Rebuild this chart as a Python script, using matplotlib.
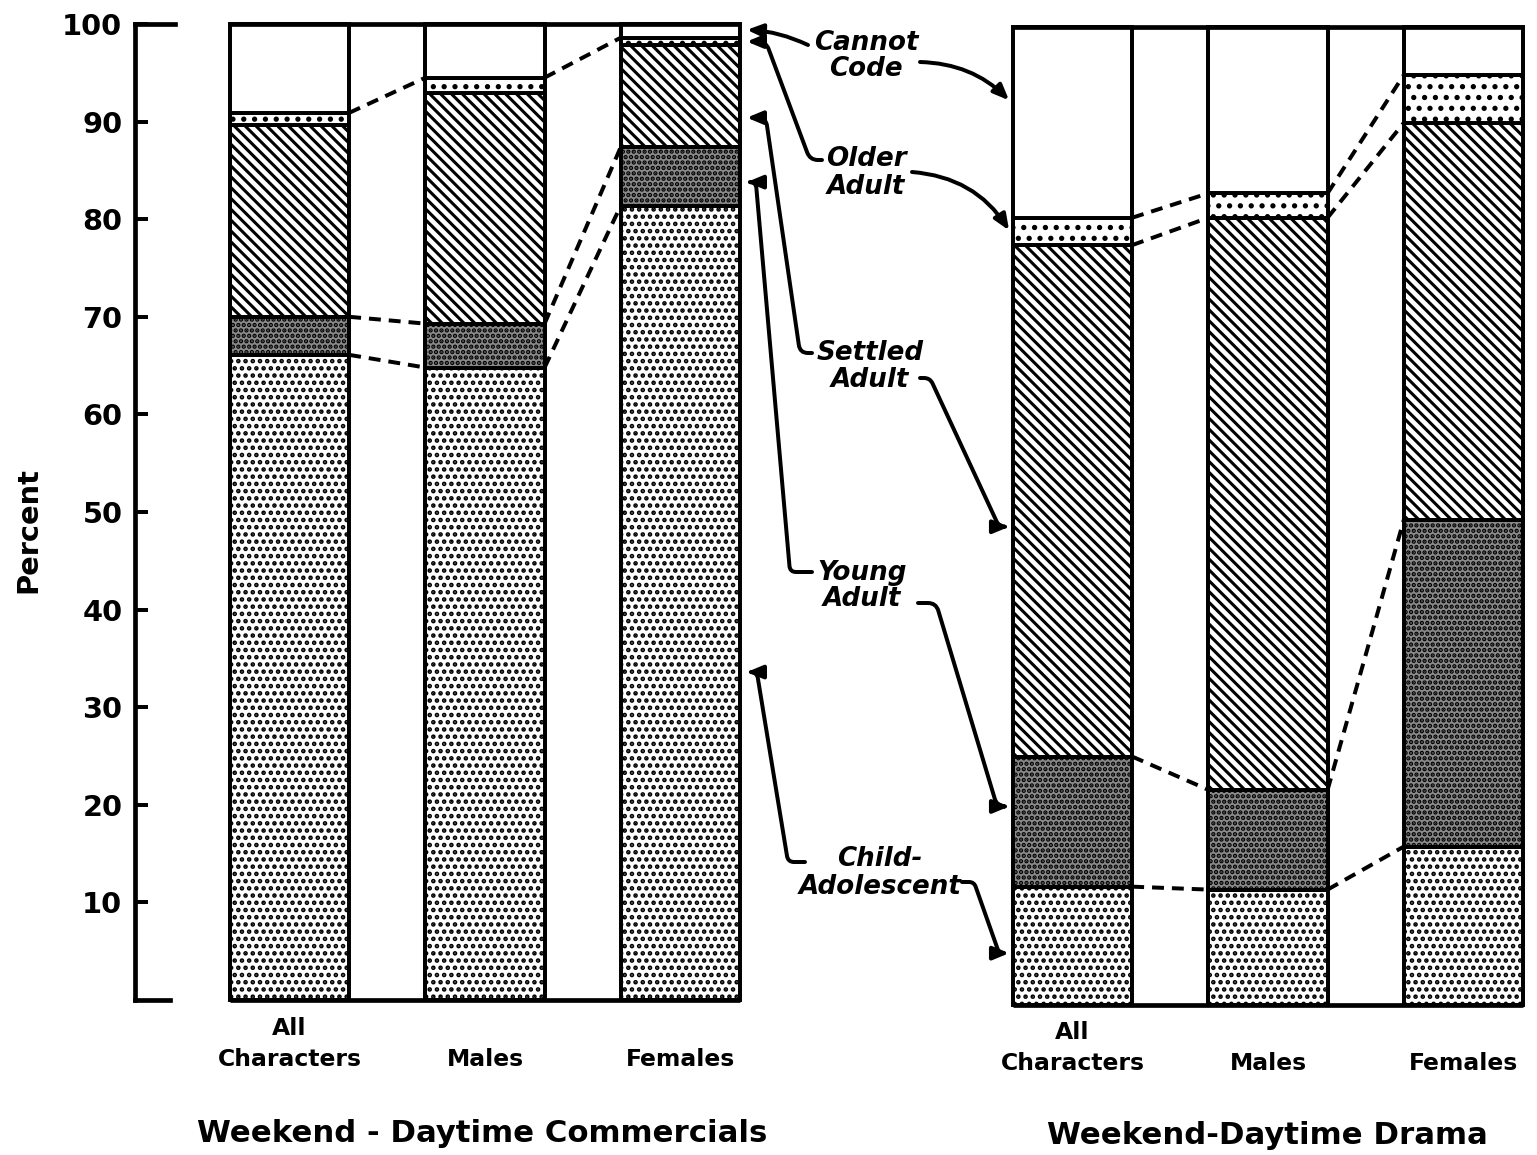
import matplotlib
matplotlib.use("Agg")
import matplotlib.pyplot as plt
import numpy as np

# percent of characters in each age group
groups = ["All\nCharacters", "Males", "Females"]
age_groups = ["Child-\nAdolescent", "Young\nAdult", "Settled\nAdult", "Older\nAdult", "Cannot\nCode"]
panel_titles = ["Weekend - Daytime Commercials", "Weekend-Daytime Drama"]

comm_child = [66.1, 64.8, 81.4]
comm_young = [3.9, 4.5, 6.0]
comm_settled = [19.7, 23.6, 10.4]
comm_older = [1.2, 1.6, 0.8]

drama_child = [12.1, 11.8, 16.2]
drama_young = [13.3, 10.2, 33.4]
drama_settled = [52.3, 58.5, 40.6]
drama_older = [2.8, 2.5, 4.9]

yticks = [10, 20, 30, 40, 50, 60, 70, 80, 90, 100]

# where the label arrows land (percent) on the Females bar / All Characters bar
comm_arrow_y = [33.6, 83.8, 90.4, 98.2, 99.4]
drama_arrow_y = [5.3, 20.3, 48.9, 79.2, 92.5]

W, H, DPI = 1537, 1155, 130
plt.rcParams['font.family'] = ['DejaVu Sans']
plt.rcParams['hatch.linewidth'] = 1.7

fig = plt.figure(figsize=(W / DPI, H / DPI), dpi=DPI)
fig.patch.set_facecolor('white')

width = 0.61
styles = [
    dict(facecolor='white', hatch='...'),
    dict(facecolor='#8a8a8a', hatch='....'),
    dict(facecolor='white', hatch='\\\\\\\\'),
    dict(facecolor='white', hatch='..'),
]


def draw_panel(ax, segs, links, pad_left):
    x = np.arange(len(groups))
    bottom = np.zeros(len(groups))
    tops = []
    for vals, st in zip(segs, styles):
        ax.bar(x, vals, width, bottom=bottom, edgecolor='black', linewidth=2.2,
               zorder=2, clip_on=False, **st)
        bottom = bottom + np.array(vals)
        tops.append(bottom.copy())
    # cannot code = what is left up to 100
    ax.bar(x, 100 - bottom, width, bottom=bottom, facecolor='white',
           edgecolor='black', linewidth=2.2, zorder=2, clip_on=False)

    # dashed lines joining segment boundaries of neighbouring bars
    for i in range(len(x) - 1):
        for k in links:
            ax.plot([x[i] + width / 2, x[i + 1] - width / 2],
                    [tops[k][i], tops[k][i + 1]], color='black', lw=2.2,
                    ls=(0, (3, 2)), zorder=3, clip_on=False)

    # frame across the top and bottom of the panel
    ax.hlines([0, 100], x[0] - width / 2, x[-1] + width / 2, color='black',
              lw=2.6, zorder=4, clip_on=False)
    ax.set_xlim(x[0] - width / 2 - pad_left, x[-1] + width / 2)
    ax.set_ylim(0, 100)
    ax.set_xticks([])
    for s in ['top', 'right', 'bottom']:
        ax.spines[s].set_visible(False)
    return x


ax1 = fig.add_axes([135 / W, 1 - 1000 / H, 605 / W, 976 / H])
ax2 = fig.add_axes([1013 / W, 1 - 1005 / H, 510 / W, 978 / H])

x1 = draw_panel(ax1, [comm_child, comm_young, comm_settled, comm_older], [0, 1, 3], 0.486)
x2 = draw_panel(ax2, [drama_child, drama_young, drama_settled, drama_older], [0, 1, 2, 3], 0.0)

# left axis with bracket ends
ax1.spines['left'].set_linewidth(2.6)
ax1.set_yticks(yticks)
ax1.tick_params(axis='y', direction='in', length=7, width=2.2, labelsize=16, pad=7)
for lbl in ax1.get_yticklabels():
    lbl.set_fontweight('bold')
ax1.axhline(100, xmin=0, xmax=40 / 605, color='black', lw=2.6, clip_on=False)
ax1.axhline(0, xmin=0, xmax=35 / 605, color='black', lw=2.6, clip_on=False)
ax2.spines['left'].set_visible(False)
ax2.set_yticks([])

fig.text(28 / W, 1 - 530 / H, "Percent", rotation=90, ha='center', va='center',
         fontsize=16, fontweight='bold')

# group labels under the bars
for ax, ypos in [(ax1, -0.073), (ax2, -0.072)]:
    for xi, g in zip(range(len(groups)), groups):
        ax.text(xi, ypos, g, transform=ax.get_xaxis_transform(), ha='center',
                va='bottom', fontsize=13, fontweight='bold', linespacing=1.45)

fig.text(482 / W, 1 - 1133 / H, panel_titles[0], ha='center', va='center',
         fontsize=17, fontweight='bold')
fig.text(1267 / W, 1 - 1136 / H, panel_titles[1], ha='center', va='center',
         fontsize=17, fontweight='bold')

# age group labels in the middle with arrows to both panels
label_px = [(880, 873), (862, 586), (870, 367), (866, 173), (866, 56)]
left_start = [(805, 862), (812, 572), (812, 353), (822, 160), (808, 45)]
left_conn = ["arc,angleA=180,armA=17,angleB=0,armB=10,rad=6",
             "arc,angleA=180,armA=22,angleB=0,armB=9,rad=6",
             "arc,angleA=180,armA=12,angleB=0,armB=19,rad=8",
             "arc,angleA=180,armA=12,angleB=0,armB=19,rad=8",
             "arc3,rad=0.1"]
right_start = [(962, 882), (918, 603), (920, 378), (912, 172), (920, 62)]
right_conn = ["arc,angleA=0,armA=12,angleB=180,armB=10,rad=5",
              "arc,angleA=0,armA=18,angleB=180,armB=12,rad=8",
              "arc,angleA=0,armA=10,angleB=180,armB=10,rad=6",
              "arc3,rad=-0.25",
              "arc3,rad=-0.2"]

arrow = dict(arrowstyle='-|>,head_length=0.6,head_width=0.25', mutation_scale=12,
             lw=2.2, color='black', shrinkA=0, shrinkB=0)

for i, name in enumerate(age_groups):
    px, py = label_px[i]
    fig.text(px / W, 1 - py / H, name, ha='center', va='center', fontsize=14.5,
             fontweight='bold', fontstyle='italic', linespacing=1.05)
    sx, sy = left_start[i]
    ax1.annotate('', xy=(x1[-1] + width / 2 + 0.035, comm_arrow_y[i]),
                 xycoords='data', xytext=(sx, H - sy), textcoords='figure pixels',
                 arrowprops=dict(connectionstyle=left_conn[i], **arrow),
                 annotation_clip=False)
    sx, sy = right_start[i]
    ax2.annotate('', xy=(x2[0] - width / 2 - 0.02, drama_arrow_y[i]),
                 xycoords='data', xytext=(sx, H - sy), textcoords='figure pixels',
                 arrowprops=dict(connectionstyle=right_conn[i], **arrow),
                 annotation_clip=False)

fig.savefig('out.png', dpi=DPI, facecolor='white')
